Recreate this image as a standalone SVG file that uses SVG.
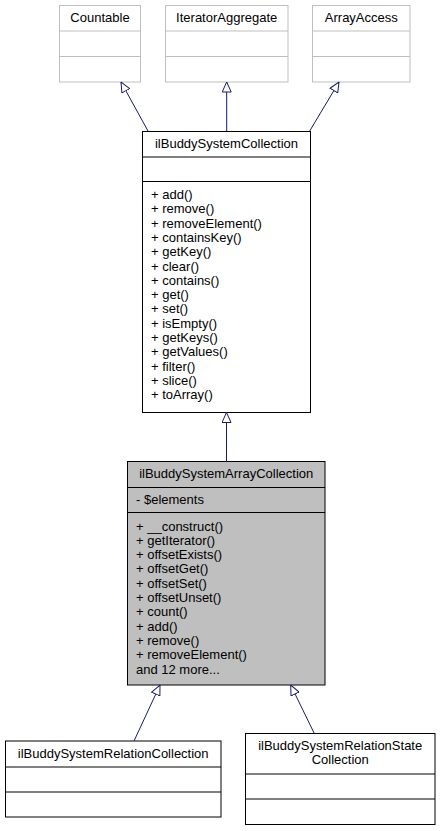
<svg xmlns="http://www.w3.org/2000/svg" width="440" height="831" viewBox="0 0 440 831">
<style>
  text { font-family: "Liberation Sans", Arial, Helvetica, sans-serif; font-size: 13px; fill: #000; }
  .c { text-anchor: middle; }
  .ext rect, .ext line { fill: #fff; stroke: #bfbfbf; stroke-width: 1; }
  .ext line { fill: none; }
  .cls rect { fill: #fff; stroke: #000; stroke-width: 1; }
  .cls line { stroke: #000; stroke-width: 1; }
  .cur rect { fill: #bfbfbf; }
  .edge { fill: none; stroke: #191970; stroke-width: 1; }
</style>
<defs>
  <marker id="inh" viewBox="0 0 11 10" refX="10.5" refY="5" markerWidth="11" markerHeight="10" markerUnits="userSpaceOnUse" orient="auto">
    <path d="M0.5,0.5 L10.5,5 L0.5,9.5 Z" fill="#fff" stroke="#191970" stroke-width="1"/>
  </marker>
</defs>
<rect width="440" height="831" fill="#fff"/>

<g id="countable" class="ext">
  <rect x="59.5" y="5.5" width="81" height="76.5"/>
  <line x1="59.5" y1="31" x2="140.5" y2="31"/>
  <line x1="59.5" y1="56.5" x2="140.5" y2="56.5"/>
  <text class="c" x="100" y="22">Countable</text>
</g>
<g id="iteratoraggregate" class="ext">
  <rect x="165.5" y="5.5" width="122.5" height="76.5"/>
  <line x1="165.5" y1="31" x2="288" y2="31"/>
  <line x1="165.5" y1="56.5" x2="288" y2="56.5"/>
  <text class="c" x="226.7" y="22">IteratorAggregate</text>
</g>
<g id="arrayaccess" class="ext">
  <rect x="312.5" y="5.5" width="97.5" height="76.5"/>
  <line x1="312.5" y1="31" x2="410" y2="31"/>
  <line x1="312.5" y1="56.5" x2="410" y2="56.5"/>
  <text class="c" x="361.3" y="22">ArrayAccess</text>
</g>

<g id="ilBuddySystemCollection" class="cls">
  <rect x="142.5" y="131.5" width="168" height="281"/>
  <line x1="142.5" y1="157" x2="310.5" y2="157"/>
  <line x1="142.5" y1="181.5" x2="310.5" y2="181.5"/>
  <text class="c" x="226.5" y="147.5">ilBuddySystemCollection</text>
  <text x="151" y="199">+ add()</text>
  <text x="151" y="213.3">+ remove()</text>
  <text x="151" y="227.6">+ removeElement()</text>
  <text x="151" y="241.9">+ containsKey()</text>
  <text x="151" y="256.2">+ getKey()</text>
  <text x="151" y="270.5">+ clear()</text>
  <text x="151" y="284.8">+ contains()</text>
  <text x="151" y="299.1">+ get()</text>
  <text x="151" y="313.4">+ set()</text>
  <text x="151" y="327.7">+ isEmpty()</text>
  <text x="151" y="342">+ getKeys()</text>
  <text x="151" y="356.3">+ getValues()</text>
  <text x="151" y="370.6">+ filter()</text>
  <text x="151" y="384.9">+ slice()</text>
  <text x="151" y="399.2">+ toArray()</text>
</g>

<g id="ilBuddySystemArrayCollection" class="cls cur">
  <rect x="127.5" y="461.5" width="197.5" height="223.5"/>
  <line x1="127.5" y1="487.5" x2="325" y2="487.5"/>
  <line x1="127.5" y1="512.5" x2="325" y2="512.5"/>
  <text class="c" x="226.2" y="478">ilBuddySystemArrayCollection</text>
  <text x="136" y="503.5">- $elements</text>
  <text x="136" y="530.5">+ __construct()</text>
  <text x="136" y="544.8">+ getIterator()</text>
  <text x="136" y="559.1">+ offsetExists()</text>
  <text x="136" y="573.4">+ offsetGet()</text>
  <text x="136" y="587.7">+ offsetSet()</text>
  <text x="136" y="602">+ offsetUnset()</text>
  <text x="136" y="616.3">+ count()</text>
  <text x="136" y="630.6">+ add()</text>
  <text x="136" y="644.9">+ remove()</text>
  <text x="136" y="659.2">+ removeElement()</text>
  <text x="136" y="673.5">and 12 more...</text>
</g>

<g id="ilBuddySystemRelationCollection" class="cls">
  <rect x="5.5" y="741" width="215.5" height="76"/>
  <line x1="5.5" y1="767" x2="221" y2="767"/>
  <line x1="5.5" y1="792" x2="221" y2="792"/>
  <text class="c" x="113.2" y="757.5">ilBuddySystemRelationCollection</text>
</g>

<g id="ilBuddySystemRelationStateCollection" class="cls">
  <rect x="245.5" y="733.5" width="189.5" height="91"/>
  <line x1="245.5" y1="774" x2="435" y2="774"/>
  <line x1="245.5" y1="799" x2="435" y2="799"/>
  <text class="c" x="340.2" y="749.5">ilBuddySystemRelationState</text>
  <text class="c" x="340.2" y="764">Collection</text>
</g>

<g id="connectors">
  <path class="edge" d="M148,131 L121,82" marker-end="url(#inh)"/>
  <path class="edge" d="M226.7,131 L226.7,82" marker-end="url(#inh)"/>
  <path class="edge" d="M309.7,131 L339,82" marker-end="url(#inh)"/>
  <path class="edge" d="M226.5,461.5 L226.5,412.5" marker-end="url(#inh)"/>
  <path class="edge" d="M134,741 L160,685" marker-end="url(#inh)"/>
  <path class="edge" d="M314.3,733.5 L290.7,685" marker-end="url(#inh)"/>
</g>
</svg>
